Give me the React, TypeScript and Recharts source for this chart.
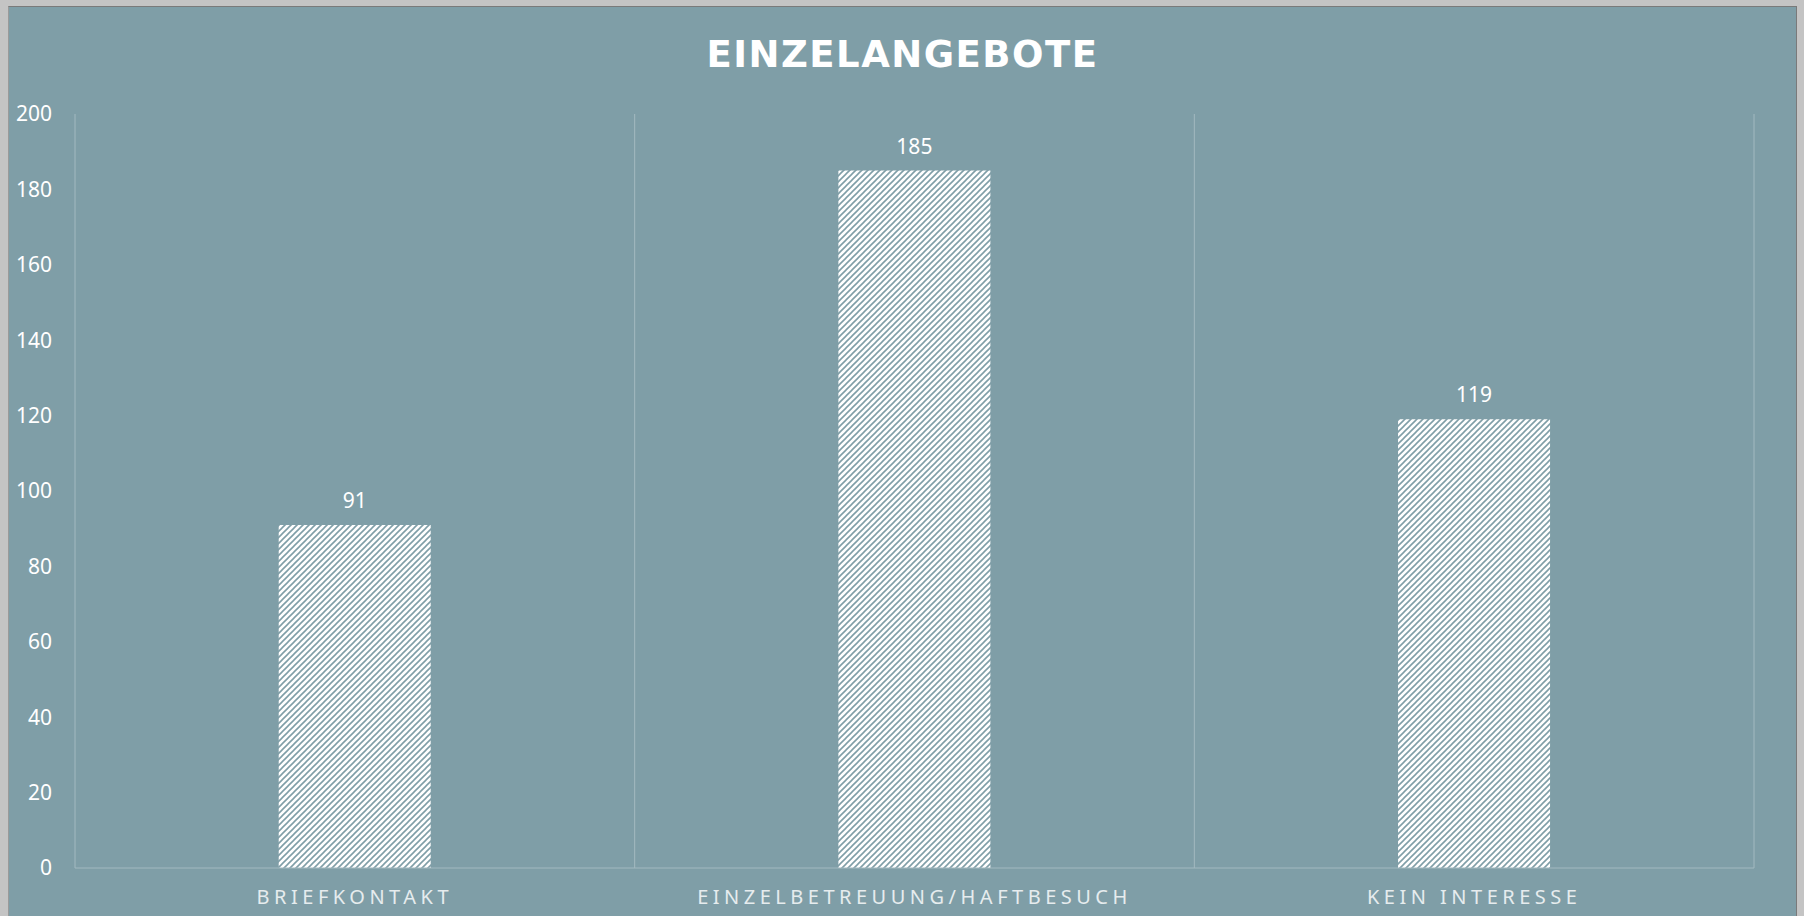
import { Bar, BarChart, CartesianGrid, LabelList, XAxis, YAxis } from "recharts";

const categories = ["BRIEFKONTAKT", "EINZELBETREUUNG/HAFTBESUCH", "KEIN INTERESSE"];
const values = [91, 185, 119];
const yTicks = [0, 20, 40, 60, 80, 100, 120, 140, 160, 180, 200];

const data = categories.map((name, i) => ({ name, value: values[i] }));

const BG = "#7f9ea7";
const GRID = "#a3b9c0";
const FONT = "'Noto Sans', 'DejaVu Sans', sans-serif";

export default function App() {
  return (
    <div
      style={{
        position: "absolute",
        left: 0,
        top: 0,
        width: 1804,
        height: 916,
        background: "#c4c4c4",
        overflow: "hidden",
      }}
    >
      <div
        style={{
          position: "absolute",
          left: 8,
          top: 6,
          width: 1789,
          height: 930,
          background: BG,
          borderTop: "1px solid #7a7a7a",
          borderLeft: "1px solid #9a9a9a",
          borderRight: "1px solid #7a7a7a",
          boxSizing: "border-box",
        }}
      />
      <div
        style={{
          position: "absolute",
          left: 8,
          top: 36,
          width: 1789,
          textAlign: "center",
          color: "#ffffff",
          fontFamily: "'DejaVu Sans', sans-serif",
          fontWeight: "bold",
          fontSize: 37,
          lineHeight: "37px",
          letterSpacing: 1.5,
        }}
      >
        EINZELANGEBOTE
      </div>
      <div style={{ position: "absolute", left: 0, top: 0 }}>
        <BarChart
          width={1804}
          height={916}
          data={data}
          margin={{ top: 114, right: 50, left: 15, bottom: 0 }}
          barCategoryGap="36.4%"
        >
          <defs>
            <pattern id="hatch" width="6" height="6" patternUnits="userSpaceOnUse">
              <rect width="6" height="6" fill="#ffffff" />
              <path d="M-1,1 l2,-2 M0,6 l6,-6 M5,7 l2,-2" stroke={BG} strokeWidth="1.6" />
            </pattern>
          </defs>
          <CartesianGrid
            horizontal={false}
            stroke={GRID}
            verticalCoordinatesGenerator={({ offset }: any) =>
              [0, 1, 2, 3].map((i) => offset.left + (offset.width * i) / categories.length)
            }
          />
          <XAxis
            dataKey="name"
            height={48}
            axisLine={{ stroke: GRID }}
            tickLine={false}
            tickSize={0}
            tickMargin={22}
            tick={{ fill: "#e6ecee", fontSize: 20, fontFamily: FONT, letterSpacing: 4.5 }}
          />
          <YAxis
            width={60}
            domain={[0, 200]}
            ticks={yTicks}
            axisLine={false}
            tickLine={false}
            tickSize={0}
            tickMargin={23}
            tick={{ fill: "#ffffff", fontSize: 21, fontFamily: FONT }}
          />
          <Bar dataKey="value" fill="url(#hatch)" isAnimationActive={false}>
            <LabelList
              dataKey="value"
              position="top"
              offset={17}
              fill="#ffffff"
              fontSize={21}
              fontFamily={FONT}
            />
          </Bar>
        </BarChart>
      </div>
    </div>
  );
}
